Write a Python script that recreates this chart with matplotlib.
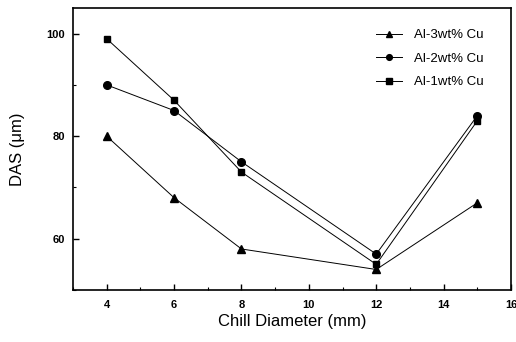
import matplotlib
matplotlib.use("Agg")
import matplotlib.pyplot as plt
from matplotlib.ticker import MultipleLocator

plt.rcParams["font.family"] = ["Liberation Sans", "DejaVu Sans"]

diameter = [4, 6, 8, 12, 15]
das_3wt = [80, 68, 58, 54, 67]
das_2wt = [90, 85, 75, 57, 84]
das_1wt = [99, 87, 73, 55, 83]

fig = plt.figure(figsize=(5.16, 3.42), dpi=100)
ax = fig.add_axes([73 / 516, 1 - 290 / 342, (511 - 73) / 516, (290 - 8) / 342])

ax.plot(diameter, das_3wt, "k-", marker="^", ms=5.5, lw=0.7, label="Al-3wt% Cu")
ax.plot(diameter, das_2wt, "k-", marker="o", ms=5.5, lw=0.7, label="Al-2wt% Cu")
ax.plot(diameter, das_1wt, "k-", marker="s", ms=5, lw=0.7, label="Al-1wt% Cu")

ax.set_xlim(3, 16)
ax.set_ylim(50, 105)
ax.set_xticks([4, 6, 8, 10, 12, 14, 16])
ax.xaxis.set_minor_locator(MultipleLocator(1))
ax.yaxis.set_major_locator(MultipleLocator(20))
ax.yaxis.set_minor_locator(MultipleLocator(10))
ax.tick_params(which="both", direction="in", labelsize=8)
ax.tick_params(which="major", length=4, width=1)
ax.tick_params(which="minor", length=2, width=0.8)
ax.tick_params(axis="x", pad=7)
ax.tick_params(axis="y", pad=6)
for lab in ax.get_xticklabels() + ax.get_yticklabels():
    lab.set_fontweight("bold")
for s in ax.spines.values():
    s.set_linewidth(1.2)

ax.set_xlabel("Chill Diameter (mm)", fontsize=12, labelpad=3)
ax.set_ylabel("DAS (\u03bcm)", fontsize=12, labelpad=15)

ax.legend(loc="upper right", bbox_to_anchor=(0.938, 0.925), frameon=False,
          fontsize=9.5, handlelength=2.0, handletextpad=0.9, markerscale=0.75,
          borderpad=0, borderaxespad=0, labelspacing=0.85)

fig.savefig("out.png", dpi=100)
